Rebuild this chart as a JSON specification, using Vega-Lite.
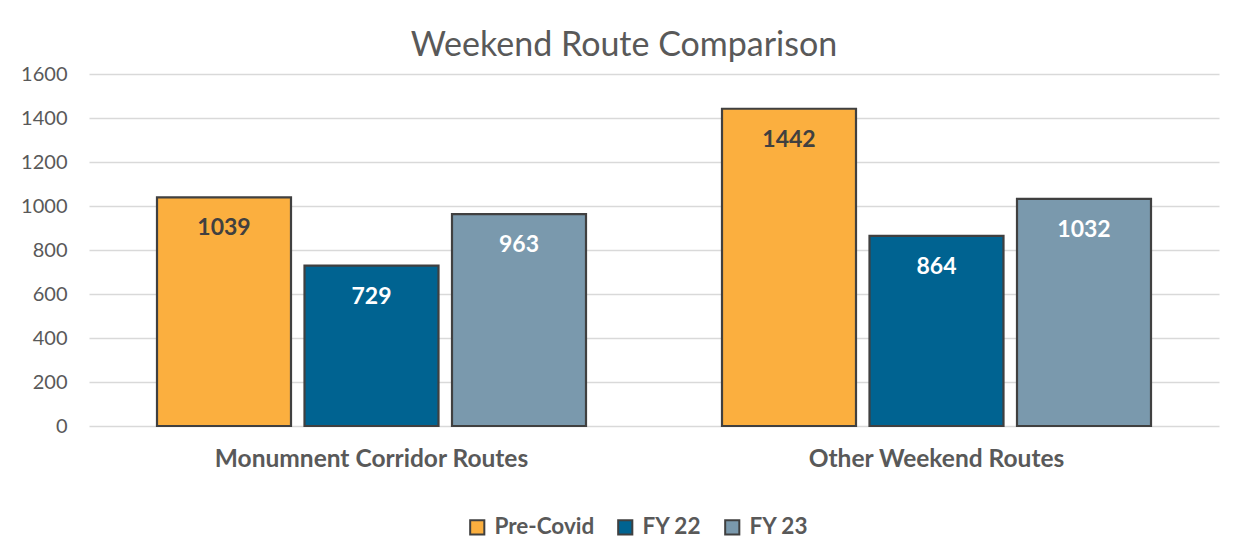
{
  "$schema": "https://vega.github.io/schema/vega-lite/v6.json",
  "width": 1130,
  "height": 352,
  "autosize": "none",
  "padding": {"left": 89, "top": 74, "right": 30, "bottom": 130},
  "background": "white",
  "config": {
    "font": "Lato",
    "view": {"stroke": null}
  },
  "title": {
    "text": "Weekend Route Comparison",
    "fontSize": 34,
    "fontWeight": "normal",
    "color": "#595959",
    "font": "Lato",
    "anchor": "middle",
    "dx": -30,
    "offset": 1
  },
  "data": {
    "values": [
      {"route": "Monumnent Corridor Routes", "period": "Pre-Covid", "value": 1039},
      {"route": "Monumnent Corridor Routes", "period": "FY 22", "value": 729},
      {"route": "Monumnent Corridor Routes", "period": "FY 23", "value": 963},
      {"route": "Other Weekend Routes", "period": "Pre-Covid", "value": 1442},
      {"route": "Other Weekend Routes", "period": "FY 22", "value": 864},
      {"route": "Other Weekend Routes", "period": "FY 23", "value": 1032}
    ]
  },
  "encoding": {
    "x": {
      "field": "route",
      "type": "nominal",
      "sort": null,
      "title": null,
      "scale": {"paddingInner": 0, "paddingOuter": 0},
      "axis": {
        "labelAngle": 0,
        "labelLimit": 0,
        "domain": false,
        "ticks": false,
        "labelFontSize": 24.5,
        "labelFontWeight": "bold",
        "labelColor": "#595959",
        "labelPadding": 21
      }
    },
    "xOffset": {
      "field": "period",
      "type": "nominal",
      "sort": ["Pre-Covid", "FY 22", "FY 23"],
      "scale": {"paddingInner": 0.0915, "paddingOuter": 0.461}
    },
    "y": {
      "field": "value",
      "type": "quantitative",
      "title": null,
      "scale": {"domain": [0, 1600]},
      "axis": {
        "values": [0, 200, 400, 600, 800, 1000, 1200, 1400, 1600],
        "format": "d",
        "domain": false,
        "ticks": false,
        "gridColor": "#D9D9D9",
        "gridWidth": 1.5,
        "labelFontSize": 20,
        "labelColor": "#595959",
        "labelPadding": 22
      }
    }
  },
  "layer": [
    {
      "mark": {"type": "bar", "stroke": "#404040", "strokeWidth": 2.2},
      "encoding": {
        "color": {
          "field": "period",
          "type": "nominal",
          "sort": ["Pre-Covid", "FY 22", "FY 23"],
          "scale": {
            "domain": ["Pre-Covid", "FY 22", "FY 23"],
            "range": ["#FBAF3F", "#006391", "#7A99AD"]
          },
          "legend": {
            "title": null,
            "orient": "none",
            "legendX": 377,
            "legendY": 442,
            "direction": "horizontal",
            "symbolType": "square",
            "symbolSize": 200,
            "symbolStrokeColor": "#404040",
            "symbolStrokeWidth": 2,
            "labelFontSize": 22.5,
            "labelFontWeight": "bold",
            "labelColor": "#595959",
            "columnPadding": 19,
            "labelOffset": 6
          }
        }
      }
    },
    {
      "mark": {"type": "text", "baseline": "middle", "dy": 31, "fontSize": 23, "fontWeight": "bold"},
      "encoding": {
        "text": {"field": "value", "type": "quantitative"},
        "color": {
          "condition": {"test": "datum.period === 'Pre-Covid'", "value": "#404040"},
          "value": "#FFFFFF"
        }
      }
    }
  ]
}
